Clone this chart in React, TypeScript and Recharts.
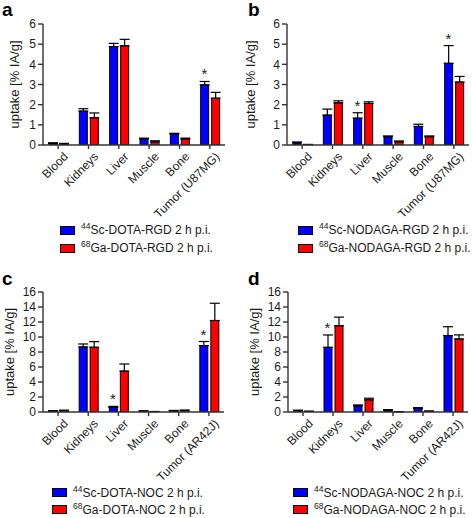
import React from 'react'
import { BarChart, Bar, XAxis, YAxis, ErrorBar, ReferenceDot, Legend } from 'recharts'

const font = '"Liberation Sans", Arial, sans-serif'
const ink = '#1a1a1a'
const blue = '#0000ff'
const red = '#ff0000'
const BAR = 8
const GAP = 3

const rgdOrgans = ['Blood', 'Kidneys', 'Liver', 'Muscle', 'Bone', 'Tumor (U87MG)']
const nocOrgans = ['Blood', 'Kidneys', 'Liver', 'Muscle', 'Bone', 'Tumor (AR42J)']

// a: DOTA-RGD
const scDotaRgd = [0.08, 1.68, 4.88, 0.3, 0.54, 2.98]
const scDotaRgdErr = [0.03, 0.12, 0.16, 0.04, 0.04, 0.17]
const gaDotaRgd = [0.06, 1.35, 4.92, 0.15, 0.3, 2.32]
const gaDotaRgdErr = [0.02, 0.24, 0.32, 0.06, 0.04, 0.29]
const starsA = ['Tumor (U87MG)']

// b: NODAGA-RGD
const scNodagaRgd = [0.11, 1.48, 1.33, 0.41, 0.92, 4.05]
const scNodagaRgdErr = [0.04, 0.3, 0.27, 0.04, 0.11, 0.88]
const gaNodagaRgd = [0.02, 2.09, 2.06, 0.16, 0.41, 3.12]
const gaNodagaRgdErr = [0.01, 0.1, 0.08, 0.04, 0.04, 0.28]
const starsB = ['Liver', 'Tumor (U87MG)']

// c: DOTA-NOC
const scDotaNoc = [0.13, 8.67, 0.6, 0.12, 0.17, 8.85]
const scDotaNocErr = [0.03, 0.4, 0.15, 0.03, 0.04, 0.55]
const gaDotaNoc = [0.2, 8.63, 5.45, 0.05, 0.2, 12.2]
const gaDotaNocErr = [0.04, 0.75, 0.95, 0.02, 0.06, 2.3]
const starsC = ['Liver', 'Tumor (AR42J)']

// d: NODAGA-NOC
const scNodagaNoc = [0.2, 8.62, 0.82, 0.25, 0.48, 10.17]
const scNodagaNocErr = [0.04, 1.65, 0.12, 0.05, 0.1, 1.2]
const gaNodagaNoc = [0.08, 11.5, 1.62, 0.03, 0.1, 9.73]
const gaNodagaNocErr = [0.02, 1.15, 0.22, 0.01, 0.03, 0.55]
const starsD = ['Kidneys']

const ticksRgd = [0, 1, 2, 3, 4, 5, 6]
const ticksNoc = [0, 2, 4, 6, 8, 10, 12, 14, 16]

function makeRows(organs: string[], sc: number[], scErr: number[], ga: number[], gaErr: number[]) {
  return organs.map((organ, i) => ({
    organ,
    sc: sc[i],
    scErr: [0, scErr[i]],
    scTop: sc[i] + scErr[i],
    ga: ga[i],
    gaErr: [0, gaErr[i]],
  }))
}

function OrganTick({ x, y, payload }: any) {
  return (
    <text
      x={x}
      y={y}
      dx={3}
      dy={12}
      textAnchor="end"
      transform={`rotate(-45, ${x}, ${y})`}
      fontSize={12}
      fontFamily={font}
      fill={ink}
    >
      {payload.value}
    </text>
  )
}

function Star({ cx, cy }: any) {
  return (
    <text x={cx - (BAR + GAP) / 2} y={cy - 2} textAnchor="middle" fontSize={15} fontFamily={font} fill={ink}>
      *
    </text>
  )
}

function LegendBox({ items, rowH }: { items: [string, string, string][]; rowH: number }) {
  return (
    <div style={{ height: rowH * items.length, fontFamily: font, fontSize: 12, color: ink }}>
      {items.map(([iso, rest, color]) => (
        <div key={iso + rest} style={{ height: rowH, display: 'flex', alignItems: 'center', whiteSpace: 'nowrap' }}>
          <span style={{ width: 13, height: 7, background: color, border: '1px solid #000', marginRight: 6 }} />
          <span style={{ fontSize: 8.5, position: 'relative', top: -4 }}>{iso}</span>
          <span>{rest}</span>
        </div>
      ))}
    </div>
  )
}

interface PanelProps {
  letter: string
  left: number
  top: number
  rows: ReturnType<typeof makeRows>
  yMax: number
  yTicks: number[]
  stars: string[]
  legend: [string, string, string][]
  yw: number
  mr: number
  mt: number
  mb: number
  xh: number
  rowH: number
  legendLeft: number
  labelOffset: number
  letterTop: number
  letterLeft: number
}

function Panel(p: PanelProps) {
  const axis = { stroke: '#333', strokeWidth: 1.4 }
  return (
    <div style={{ position: 'absolute', left: p.left, top: p.top, width: 236, height: 259 }}>
      <BarChart
        width={236}
        height={259}
        data={p.rows}
        margin={{ top: p.mt, right: p.mr, left: 0, bottom: p.mb }}
        barSize={BAR}
        barGap={GAP}
      >
        <XAxis
          dataKey="organ"
          interval={0}
          height={p.xh}
          tick={<OrganTick />}
          tickSize={4}
          axisLine={axis}
          tickLine={axis}
        />
        <YAxis
          width={p.yw}
          domain={[0, p.yMax]}
          ticks={p.yTicks}
          interval={0}
          allowDataOverflow
          tickSize={5}
          tick={{ fontSize: 12, fill: ink, fontFamily: font }}
          axisLine={axis}
          tickLine={axis}
          label={{
            value: 'uptake [% IA/g]',
            angle: -90,
            position: 'insideLeft',
            offset: p.labelOffset,
            style: { textAnchor: 'middle', fontSize: 13, fill: ink, fontFamily: font },
          }}
        />
        <Bar dataKey="sc" fill={blue} stroke="#000" strokeWidth={1} isAnimationActive={false}>
          <ErrorBar dataKey="scErr" width={5} stroke="#000" strokeWidth={1.2} direction="y" />
        </Bar>
        <Bar dataKey="ga" fill={red} stroke="#000" strokeWidth={1} isAnimationActive={false}>
          <ErrorBar dataKey="gaErr" width={5} stroke="#000" strokeWidth={1.2} direction="y" />
        </Bar>
        {p.rows
          .filter((r) => p.stars.includes(r.organ))
          .map((r) => (
            <ReferenceDot key={r.organ} x={r.organ} y={r.scTop} r={0} shape={<Star />} />
          ))}
        <Legend
          verticalAlign="bottom"
          align="left"
          wrapperStyle={{ left: p.legendLeft, width: 'auto' }}
          content={() => <LegendBox items={p.legend} rowH={p.rowH} />}
        />
      </BarChart>
      <div
        style={{
          position: 'absolute',
          left: p.letterLeft,
          top: p.letterTop,
          fontFamily: font,
          fontWeight: 'bold',
          fontSize: 19,
          lineHeight: '19px',
          color: '#000',
        }}
      >
        {p.letter}
      </div>
    </div>
  )
}

export default function App() {
  const top = { mt: 24, mb: 2, xh: 76, rowH: 18, letterTop: 0 }
  const bottom = { mt: 33, mb: 0, xh: 72, rowH: 17, letterTop: 269 - 259 }
  return (
    <div style={{ position: 'absolute', left: 0, top: 0, width: 472, height: 518, background: '#fff' }}>
      <Panel
        letter="a"
        left={0}
        top={0}
        rows={makeRows(rgdOrgans, scDotaRgd, scDotaRgdErr, gaDotaRgd, gaDotaRgdErr)}
        yMax={6}
        yTicks={ticksRgd}
        stars={starsA}
        legend={[
          ['44', 'Sc-DOTA-RGD 2 h p.i.', blue],
          ['68', 'Ga-DOTA-RGD 2 h p.i.', red],
        ]}
        yw={43}
        mr={11}
        legendLeft={60}
        labelOffset={14}
        letterLeft={2}
        {...top}
      />
      <Panel
        letter="b"
        left={236}
        top={0}
        rows={makeRows(rgdOrgans, scNodagaRgd, scNodagaRgdErr, gaNodagaRgd, gaNodagaRgdErr)}
        yMax={6}
        yTicks={ticksRgd}
        stars={starsB}
        legend={[
          ['44', 'Sc-NODAGA-RGD 2 h p.i.', blue],
          ['68', 'Ga-NODAGA-RGD 2 h p.i.', red],
        ]}
        yw={51}
        mr={3}
        legendLeft={62}
        labelOffset={14}
        letterLeft={12}
        {...top}
      />
      <Panel
        letter="c"
        left={0}
        top={259}
        rows={makeRows(nocOrgans, scDotaNoc, scDotaNocErr, gaDotaNoc, gaDotaNocErr)}
        yMax={16}
        yTicks={ticksNoc}
        stars={starsC}
        legend={[
          ['44', 'Sc-DOTA-NOC 2 h p.i.', blue],
          ['68', 'Ga-DOTA-NOC 2 h p.i.', red],
        ]}
        yw={43}
        mr={12}
        legendLeft={52}
        labelOffset={9}
        letterLeft={2}
        {...bottom}
      />
      <Panel
        letter="d"
        left={236}
        top={259}
        rows={makeRows(nocOrgans, scNodagaNoc, scNodagaNocErr, gaNodagaNoc, gaNodagaNocErr)}
        yMax={16}
        yTicks={ticksNoc}
        stars={starsD}
        legend={[
          ['44', 'Sc-NODAGA-NOC 2 h p.i.', blue],
          ['68', 'Ga-NODAGA-NOC 2 h p.i.', red],
        ]}
        yw={52}
        mr={4}
        legendLeft={57}
        labelOffset={18}
        letterLeft={12}
        {...bottom}
      />
    </div>
  )
}
